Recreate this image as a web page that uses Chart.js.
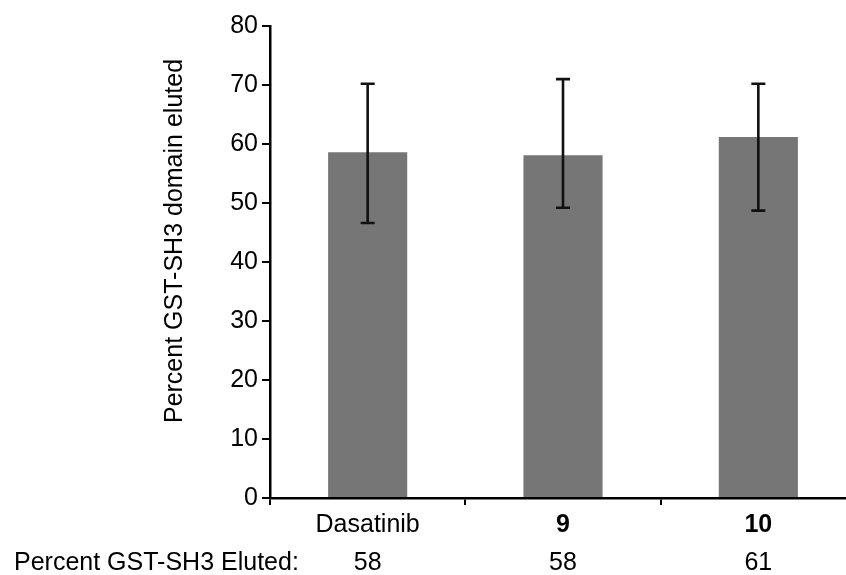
<!DOCTYPE html>
<html>
<head>
    <title>GST-SH3 elution</title>
    <style>
        html, body {
            margin: 0;
            padding: 0;
            background: #ffffff;
            overflow: hidden; /* the x axis runs a few px past the window edge */
        }
        #chart-box {
            width: 856px;
            height: 575px;
        }
    </style>
</head>
<body>
    <div id="chart-box">
        <canvas id="elution-chart"></canvas>
    </div>

    <script src="https://cdn.jsdelivr.net/npm/chart.js"></script>
    <script>
        // Values
        const categories = ['Dasatinib', '9', '10'];
        const meanEluted = [58.6, 58.1, 61.2];
        const errorLow = [46.6, 49.2, 48.7];
        const errorHigh = [70.2, 71.0, 70.2];
        const elutedLabels = ['58', '58', '61'];
        const yTicks = { min: 0, max: 80, step: 10 };

        const fontFamily = '"Liberation Sans", Arial, sans-serif';
        const fontSize = 25;

        // Error bars with caps, drawn through the y scale
        const errorBarPlugin = {
            id: 'errorBars',
            afterDatasetsDraw(chart) {
                const ctx = chart.ctx;
                const x = chart.scales.x;
                const y = chart.scales.y;
                ctx.save();
                ctx.strokeStyle = '#111111';
                ctx.lineWidth = 2.6;
                categories.forEach((c, i) => {
                    const cx = x.getPixelForValue(i);
                    const top = y.getPixelForValue(errorHigh[i]);
                    const bot = y.getPixelForValue(errorLow[i]);
                    ctx.beginPath();
                    ctx.moveTo(cx, top);
                    ctx.lineTo(cx, bot);
                    ctx.moveTo(cx - 7, top);
                    ctx.lineTo(cx + 7, top);
                    ctx.moveTo(cx - 7, bot);
                    ctx.lineTo(cx + 7, bot);
                    ctx.stroke();
                });
                ctx.restore();
            }
        };

        // Y title (sits a bit above the plot centre in the figure) and the
        // row of "Percent GST-SH3 Eluted" numbers under the categories
        const textPlugin = {
            id: 'extraText',
            afterDraw(chart) {
                const ctx = chart.ctx;
                const x = chart.scales.x;
                ctx.save();
                ctx.fillStyle = '#000000';
                ctx.font = fontSize + 'px ' + fontFamily;

                ctx.save();
                ctx.translate(175, 241);
                ctx.rotate(-Math.PI / 2);
                ctx.textAlign = 'center';
                ctx.textBaseline = 'middle';
                ctx.fillText('Percent GST-SH3 domain eluted', 0, 0);
                ctx.restore();

                const rowY = 570;
                ctx.textBaseline = 'alphabetic';
                ctx.textAlign = 'left';
                ctx.fillText('Percent GST-SH3 Eluted:', 14, rowY);
                ctx.textAlign = 'center';
                elutedLabels.forEach((t, i) => {
                    ctx.fillText(t, x.getPixelForValue(i), rowY);
                });
                ctx.restore();
            }
        };

        const chartCtx = document.getElementById('elution-chart').getContext('2d');
        new Chart(chartCtx, {
            type: 'bar',
            data: {
                labels: categories,
                datasets: [{
                    data: meanEluted,
                    backgroundColor: '#767676',
                    borderWidth: 0,
                    categoryPercentage: 1.0,
                    barPercentage: 0.405
                }]
            },
            options: {
                responsive: true,
                maintainAspectRatio: false,
                animation: false,
                layout: {
                    padding: { top: 26, right: 0, bottom: 0, left: 0 }
                },
                plugins: {
                    legend: { display: false },
                    tooltip: { enabled: false }
                },
                scales: {
                    x: {
                        offset: true,
                        grid: {
                            display: true,
                            offset: true,
                            drawOnChartArea: false,
                            drawTicks: true,
                            tickLength: 7,
                            color: '#000000',
                            lineWidth: 2
                        },
                        border: { display: true, color: '#000000', width: 2.5 },
                        ticks: {
                            color: '#000000',
                            padding: 5,
                            font: ctx => ({
                                family: fontFamily,
                                size: fontSize,
                                weight: ctx.index > 0 ? 'bold' : 'normal'
                            })
                        },
                        afterFit(scale) {
                            scale.height = 77;
                        }
                    },
                    y: {
                        min: yTicks.min,
                        max: yTicks.max,
                        grid: {
                            display: true,
                            drawOnChartArea: false,
                            drawTicks: true,
                            tickLength: 8,
                            color: '#000000',
                            lineWidth: 2
                        },
                        border: { display: true, color: '#000000', width: 2.5 },
                        ticks: {
                            stepSize: yTicks.step,
                            color: '#000000',
                            padding: 4,
                            font: { family: fontFamily, size: fontSize }
                        },
                        afterFit(scale) {
                            scale.width = 270;
                        }
                    }
                }
            },
            plugins: [errorBarPlugin, textPlugin]
        });
    </script>
</body>
</html>
